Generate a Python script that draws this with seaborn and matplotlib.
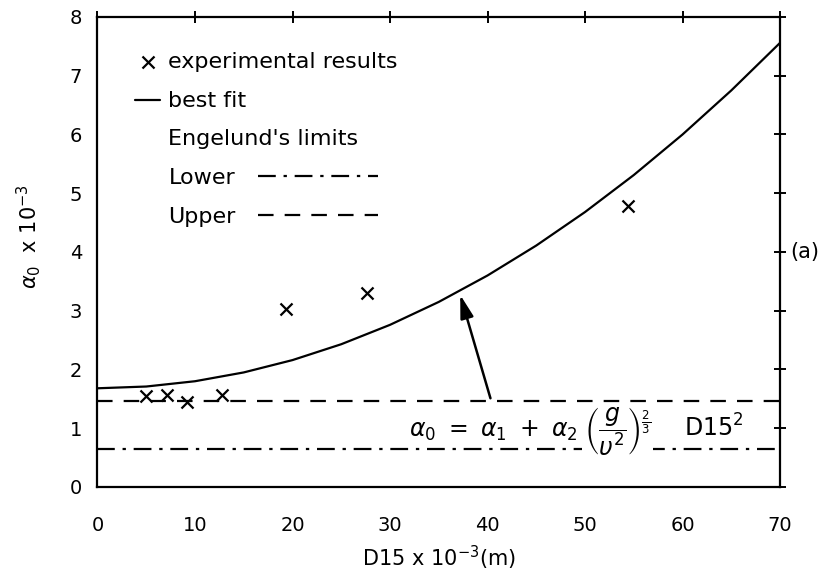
import matplotlib
matplotlib.use("Agg")
import matplotlib.pyplot as plt
import seaborn as sns

# ---- data ----
exp_d15 = [5.0, 7.1, 9.2, 12.8, 19.3, 27.6, 54.4]
exp_alpha0 = [1.55, 1.56, 1.45, 1.57, 3.03, 3.30, 4.78]

fit_d15 = [0, 5, 10, 15, 20, 25, 30, 35, 40, 45, 50, 55, 60, 65, 70]
fit_alpha0 = [1.68, 1.71, 1.80, 1.95, 2.16, 2.43, 2.76, 3.15, 3.60, 4.11,
              4.68, 5.31, 6.00, 6.75, 7.56]

limit_d15 = [0, 70]
lower_limit = [0.65, 0.65]
upper_limit = [1.46, 1.46]

x_ticks = [0, 10, 20, 30, 40, 50, 60, 70]
y_ticks = [0, 1, 2, 3, 4, 5, 6, 7, 8]

arrow_tail = (40.3, 1.51)
arrow_head = (37.2, 3.27)

# ---- style ----
sns.set_style("white")
plt.rcParams['font.family'] = ['DejaVu Sans']
plt.rcParams['mathtext.fontset'] = 'dejavusans'
plt.rcParams['text.color'] = 'black'
plt.rcParams['axes.labelcolor'] = 'black'

fig = plt.figure(figsize=(8.34, 5.88), dpi=100)
ax = fig.add_axes([0.1169, 0.1718, 0.8184, 0.7993])

LW = 1.6
sns.lineplot(x=fit_d15, y=fit_alpha0, ax=ax, color='black', linewidth=LW)
fit_line = ax.lines[-1]
sns.lineplot(x=limit_d15, y=lower_limit, ax=ax, color='black', linewidth=LW,
             linestyle=(0, (8, 3.5, 1.5, 3.5)))
lower_line = ax.lines[-1]
sns.lineplot(x=limit_d15, y=upper_limit, ax=ax, color='black', linewidth=LW,
             linestyle=(0, (7, 5)))
upper_line = ax.lines[-1]
sns.scatterplot(x=exp_d15, y=exp_alpha0, ax=ax, marker='x', s=75,
                color='black', edgecolor='black', linewidth=1.6, zorder=4)
exp_pts = ax.collections[-1]

ax.set_xlim(0, 70)
ax.set_ylim(0, 8)
ax.set_xticks(x_ticks)
ax.set_yticks(y_ticks)
ax.tick_params(direction='inout', length=8, width=1.4, top=True, right=True,
               labelsize=14, colors='black')
ax.tick_params(axis='x', pad=17)
ax.tick_params(axis='y', pad=7)
for sp in ax.spines.values():
    sp.set_visible(True)
    sp.set_linewidth(LW)
    sp.set_color('black')

ax.set_xlabel(r'D15 x 10$^{-3}$(m)', fontsize=15, labelpad=6, color='black')
ax.set_ylabel(r'$\alpha_0$  x 10$^{-3}$', fontsize=15, color='black')
ax.yaxis.set_label_coords(-0.08, 0.532)

ax.text(1.015, 0.5, '(a)', transform=ax.transAxes, ha='left', va='center',
        fontsize=15, color='black')

# equation
ax.text(49.3, 0.85, r'$\alpha_0\ =\ \alpha_1\ +\ \alpha_2$', ha='right',
        va='baseline', fontsize=17, zorder=5, color='black')
ax.text(49.9, 0.85, r'$\left(\dfrac{g}{\upsilon^2}\right)^{\frac{2}{3}}$',
        ha='left', va='baseline', fontsize=17, zorder=5, color='black',
        bbox=dict(facecolor='white', edgecolor='none', pad=1.5))
ax.text(60.1, 0.85, r'$\mathrm{D15}^2$', ha='left', va='baseline',
        fontsize=17, zorder=5, color='black')

ax.annotate('', xy=arrow_head, xytext=arrow_tail,
            arrowprops=dict(arrowstyle='-|>,head_length=0.7,head_width=0.2',
                            color='black', lw=1.8, mutation_scale=20,
                            shrinkA=0, shrinkB=0))

# legends
leg1 = ax.legend([exp_pts, fit_line], ['experimental results', 'best fit'],
                 loc='upper left', bbox_to_anchor=(0.055, 0.925),
                 frameon=False, fontsize=16, handlelength=1.13,
                 handletextpad=0.36, labelspacing=0.86, borderpad=0,
                 borderaxespad=0, labelcolor='black')
ax.add_artist(leg1)
leg2 = ax.legend([lower_line, upper_line], ['Lower', 'Upper'],
                 title="Engelund's limits", title_fontsize=16,
                 alignment='left', markerfirst=False,
                 loc='upper left', bbox_to_anchor=(0.103, 0.762),
                 frameon=False, fontsize=16, handlelength=5.4,
                 handletextpad=1.04, labelspacing=0.86, borderpad=0,
                 borderaxespad=0, labelcolor='black')
leg2.get_title().set_color('black')

fig.savefig('out.png', dpi=100)
